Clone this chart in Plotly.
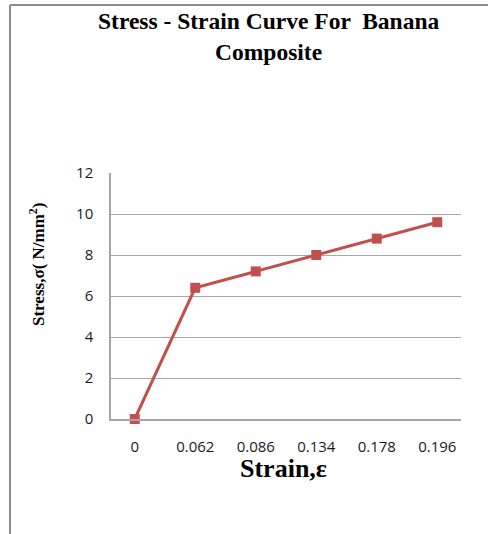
import plotly.graph_objects as go

strain_labels = ["0", "0.062", "0.086", "0.134", "0.178", "0.196"]
stress_values = [0, 6.4, 7.2, 8.0, 8.8, 9.6]
y_ticks = [0, 2, 4, 6, 8, 10, 12]

W, H = 488, 534
L, R, T, B = 111, 27, 173, 115
pw, ph = W - L - R, H - T - B

def px(x):
    return (x - L) / pw

def py(y):
    return (H - B - y) / ph

fig = go.Figure()
fig.add_trace(go.Scatter(
    x=strain_labels, y=stress_values, mode="lines+markers",
    line=dict(color="#C0504D", width=3),
    marker=dict(symbol="square", size=10, color="#C0504D"),
    showlegend=False, cliponaxis=False,
))

tick_font = dict(family="Open Sans", size=15, color="#1a1a1a")
frame = dict(color="#8C8C8C", width=2)
shapes = [
    dict(type="path", xref="paper", yref="paper",
         path=f"M {px(10)},{py(5)} L {px(10)},{py(534)}", line=frame),
    dict(type="path", xref="paper", yref="paper",
         path=f"M {px(10)},{py(5)} L {px(488)},{py(5)}", line=frame),
]

fig.update_layout(
    width=W, height=H,
    margin=dict(l=L, r=R, t=T, b=B),
    paper_bgcolor="white", plot_bgcolor="white",
    xaxis=dict(type="category", showgrid=False, showline=True, linecolor="#A6A6A6", linewidth=1.5,
               ticks="", tickfont=tick_font, ticklabelstandoff=13, fixedrange=True),
    yaxis=dict(range=[0, 12], tickvals=y_ticks, showgrid=True, gridcolor="#A6A6A6", gridwidth=1.2,
               showline=True, linecolor="#A6A6A6", linewidth=1.5, zeroline=False, ticks="",
               tickfont=tick_font, ticklabelstandoff=13, fixedrange=True),
    shapes=shapes,
    annotations=[
        dict(text="<b>Stress - Strain Curve For  Banana<br>Composite</b>", xref="paper", yref="paper",
             x=px(268), y=py(36), xanchor="center", yanchor="middle", showarrow=False,
             font=dict(family="Liberation Serif", size=23.5, color="black")),
        dict(text="<b>Strain,ε</b>", xref="paper", yref="paper",
             x=px(283), y=py(468), xanchor="center", yanchor="middle", showarrow=False,
             font=dict(family="Liberation Serif", size=26, color="black")),
        dict(text="<b>Stress,σ( N/mm<sup>2</sup>)</b>", xref="paper", yref="paper",
             x=px(37), y=py(264), xanchor="center", yanchor="middle", showarrow=False, textangle=-90,
             font=dict(family="Liberation Serif", size=17, color="black")),
    ],
)

fig.write_html("out.html", config={"displayModeBar": False},
               post_script="document.body.style.margin='0';")
